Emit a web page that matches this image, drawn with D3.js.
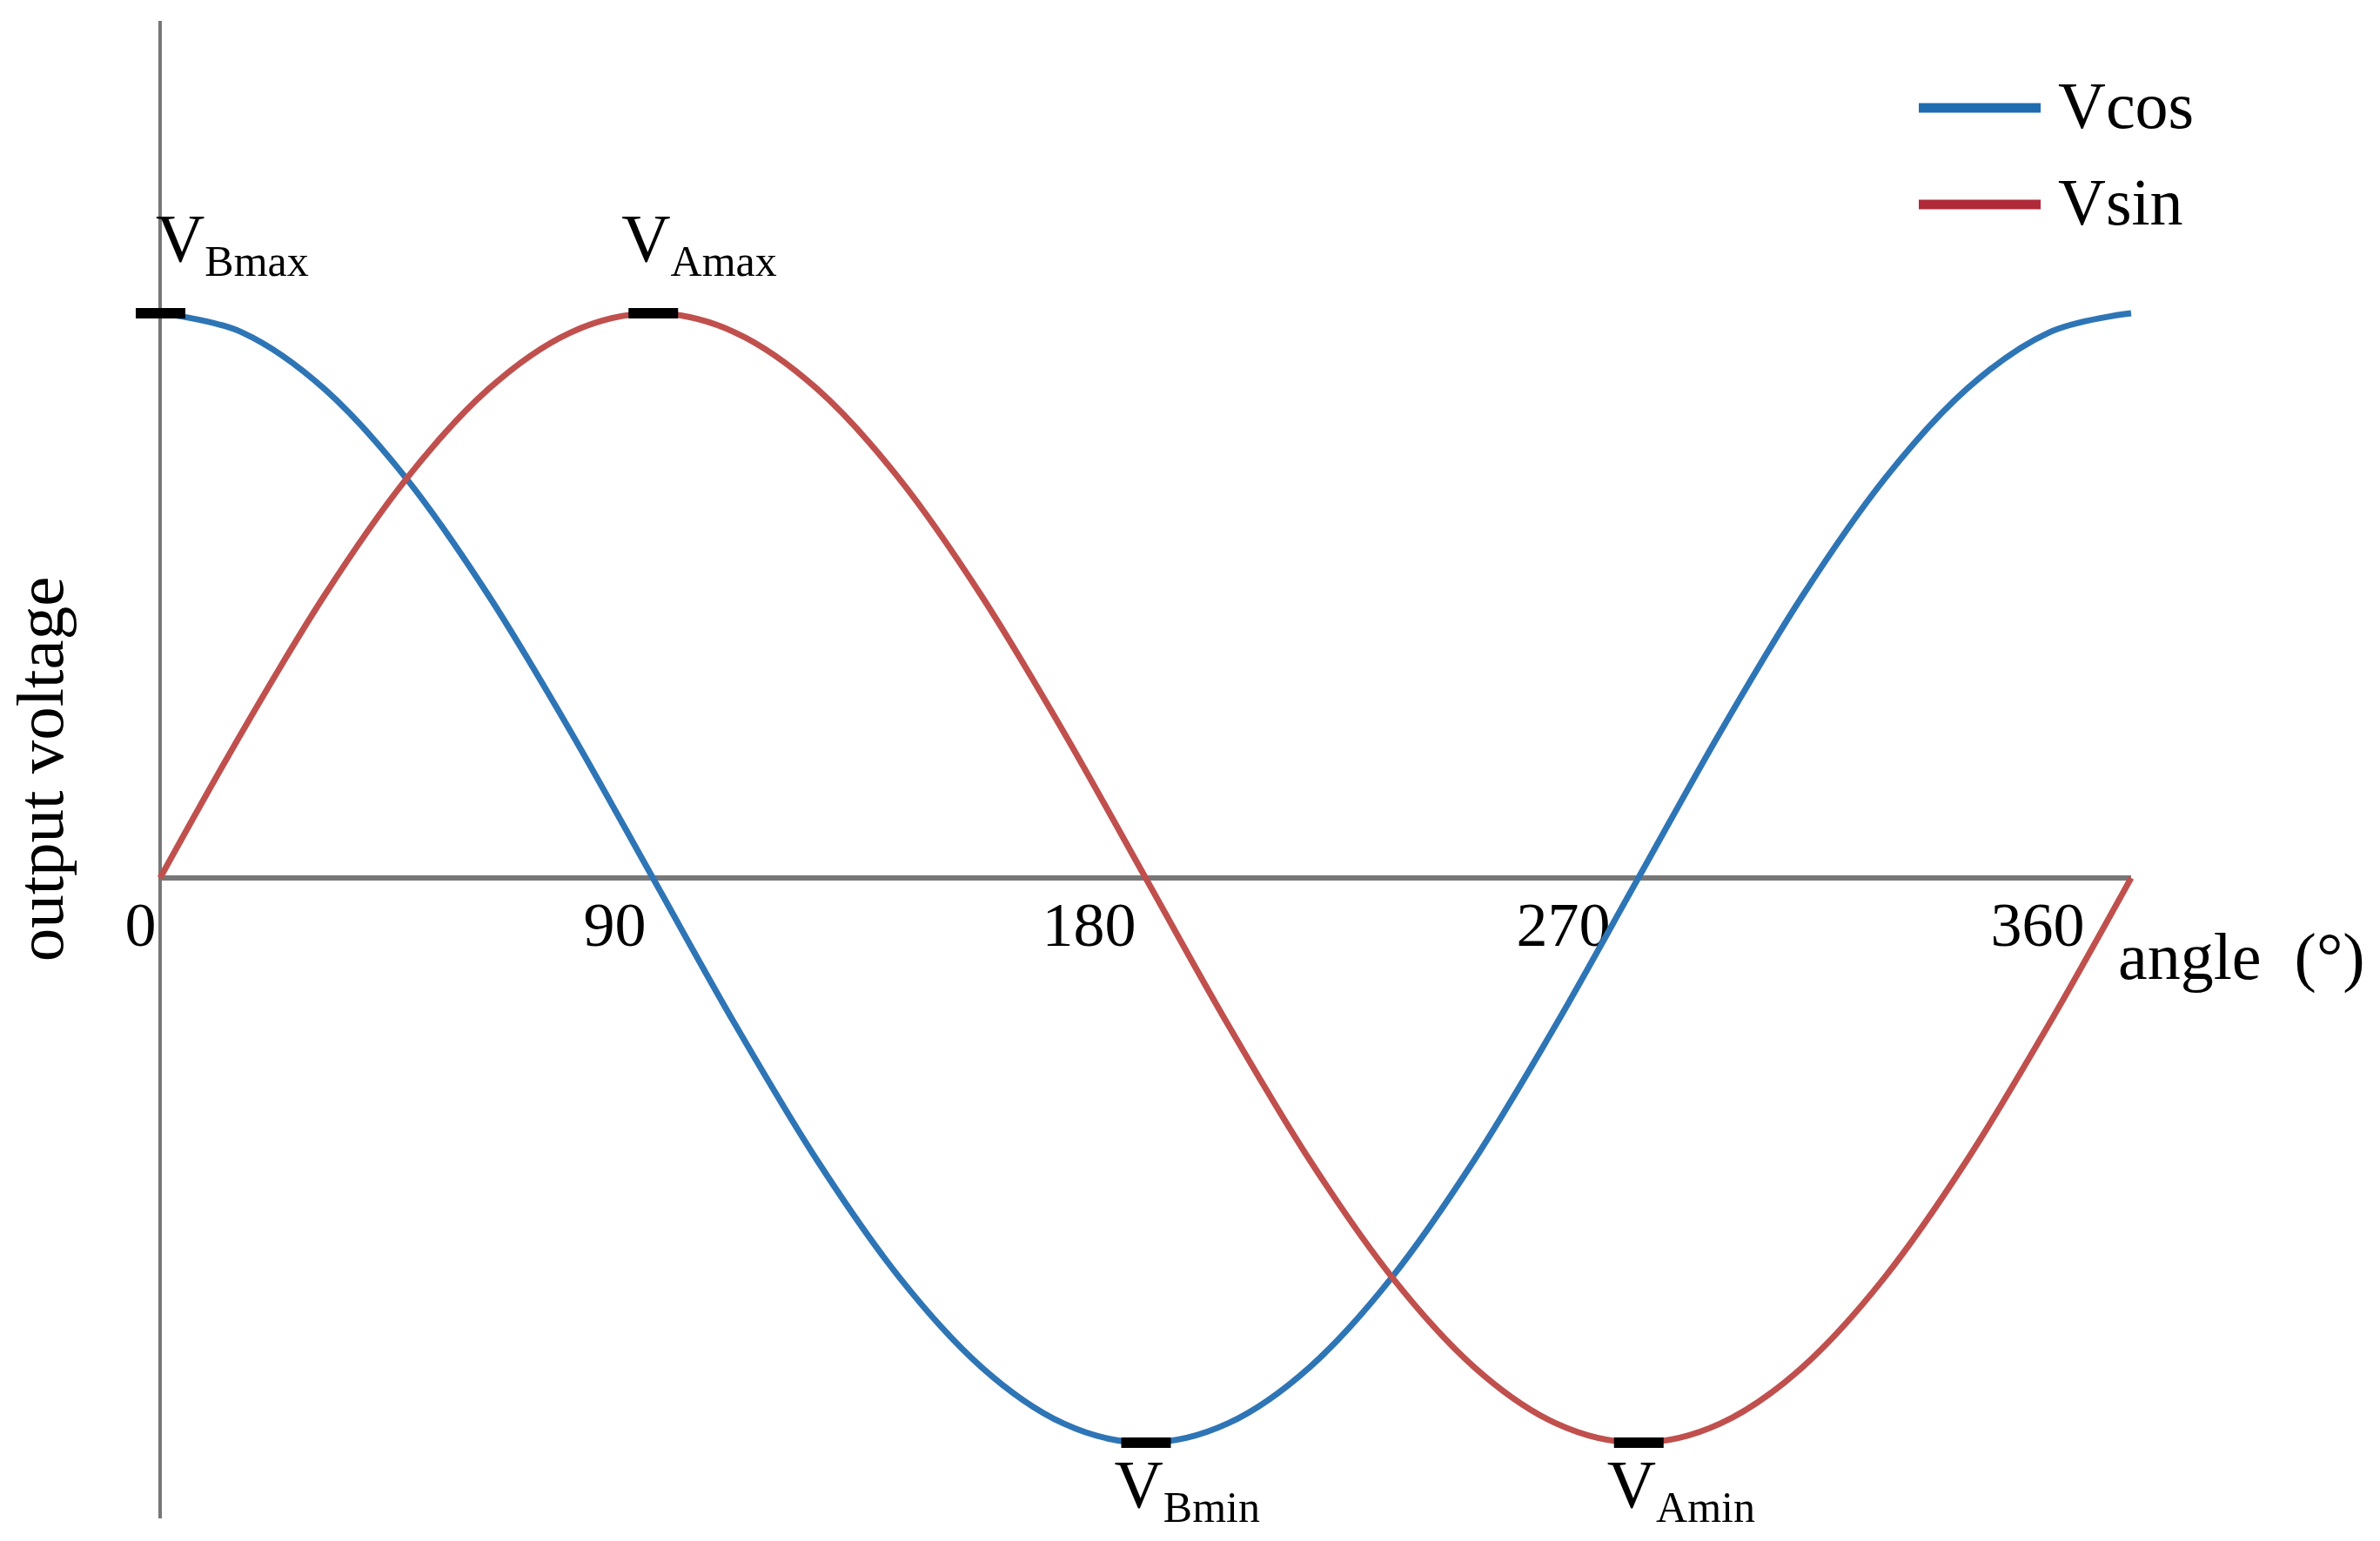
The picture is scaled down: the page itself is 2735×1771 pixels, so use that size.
<!DOCTYPE html>
<html>
<head>
<meta charset="utf-8">
<script src="https://cdn.jsdelivr.net/npm/d3@7"></script>
<style>
  body { margin: 0; background: #fff; }
  text { font-family: "Liberation Serif", "Times New Roman", serif; fill: #000; }
</style>
</head>
<body>
<div id="chart"></div>
<script>
// angles in degrees (peak = 1)
const angles = [0, 15, 30, 45, 60, 75, 90, 105, 120, 135, 150, 165, 180,
  195, 210, 225, 240, 255, 270, 285, 300, 315, 330, 345, 360];
const vcos = [1.000, 0.966, 0.866, 0.707, 0.500, 0.259, 0.000, -0.259, -0.500, -0.707, -0.866, -0.966, -1.000,
  -0.966, -0.866, -0.707, -0.500, -0.259, 0.000, 0.259, 0.500, 0.707, 0.866, 0.966, 1.000];
const vsin = [0.000, 0.259, 0.500, 0.707, 0.866, 0.966, 1.000, 0.966, 0.866, 0.707, 0.500, 0.259, 0.000,
  -0.259, -0.500, -0.707, -0.866, -0.966, -1.000, -0.966, -0.866, -0.707, -0.500, -0.259, 0.000];
const seriesNames = ['Vcos', 'Vsin'];
const seriesColors = ['#2e75b6', '#c0504d'];
const legendColors = ['#1f6db0', '#b02a3a'];
const tickAngles = [0, 90, 180, 270, 360];
const tickLabels = ['0', '90', '180', '270', '360'];
// extreme points marked with a black bar
const markAngles = [0, 90, 180, 270];
const markValues = [1, 1, -1, -1];
const markSubs = ['Bmax', 'Amax', 'Bmin', 'Amin'];

const width = 2735;
const height = 1771;

const x = d3.scaleLinear().domain([0, 360]).range([184, 2449]);
const y = d3.scaleLinear().domain([-1, 1]).range([1658, 360]);
// tick labels in the figure sit a little left of their angle
const labelX = d3.scaleLinear().domain([0, 360]).range([x(0) - 23, x(360) - 108]);

const svg = d3.select('#chart').append('svg')
  .attr('width', width)
  .attr('height', height);

// axes
svg.append('line')
  .attr('x1', x(0)).attr('x2', x(0))
  .attr('y1', 24).attr('y2', 1745)
  .attr('stroke', '#777')
  .attr('stroke-width', 4);

svg.append('line')
  .attr('x1', x(0)).attr('x2', x(360))
  .attr('y1', y(0)).attr('y2', y(0))
  .attr('stroke', '#777')
  .attr('stroke-width', 6);

svg.append('g')
  .attr('transform', `translate(0,${y(0)})`)
  .call(d3.axisBottom(labelX).tickValues(tickAngles).tickSize(0).tickPadding(27)
    .tickFormat((d, i) => tickLabels[i]))
  .call(g => g.select('.domain').remove())
  .call(g => g.selectAll('text')
    .attr('font-family', null)
    .style('font-size', '72px')
    .attr('fill', '#000'));

svg.append('text')
  .attr('x', 2434)
  .attr('y', 1125)
  .style('font-size', '76px')
  .text('angle\u00a0 (°)');

svg.append('text')
  .attr('transform', `translate(72,${884}) rotate(-90)`)
  .attr('text-anchor', 'middle')
  .style('font-size', '77px')
  .text('output voltage');

// curves
const series = [vcos, vsin];
const line = d3.line()
  .x((d, i) => x(angles[i]))
  .y(d => y(d))
  .curve(d3.curveCardinal.tension(0));

series.forEach((vals, k) => {
  svg.append('path')
    .datum(vals)
    .attr('fill', 'none')
    .attr('stroke', seriesColors[k])
    .attr('stroke-width', 7)
    .attr('d', line);
});

// peak / trough markers
markAngles.forEach((a, i) => {
  const cx = x(a);
  const cy = y(markValues[i]);
  svg.append('rect')
    .attr('x', cx - 28)
    .attr('y', cy - 6)
    .attr('width', 57)
    .attr('height', 12)
    .attr('fill', '#000');

  const t = svg.append('text')
    .attr('x', Math.max(cx - 36, x(0) - 5))
    .attr('y', markValues[i] > 0 ? cy - 60 : cy + 74)
    .style('font-size', '78px');
  t.append('tspan').text('V');
  t.append('tspan')
    .attr('dy', 17)
    .style('font-size', '50px')
    .text(markSubs[i]);
});

// legend
const legend = svg.append('g').attr('transform', 'translate(2205,124)');
seriesNames.forEach((name, k) => {
  const row = legend.append('g').attr('transform', `translate(0,${k * 111})`);
  row.append('line')
    .attr('x1', 0).attr('x2', 140)
    .attr('stroke', legendColors[k])
    .attr('stroke-width', 11);
  row.append('text')
    .attr('x', 160)
    .attr('y', 23)
    .style('font-size', '76px')
    .text(name);
});
</script>
</body>
</html>
